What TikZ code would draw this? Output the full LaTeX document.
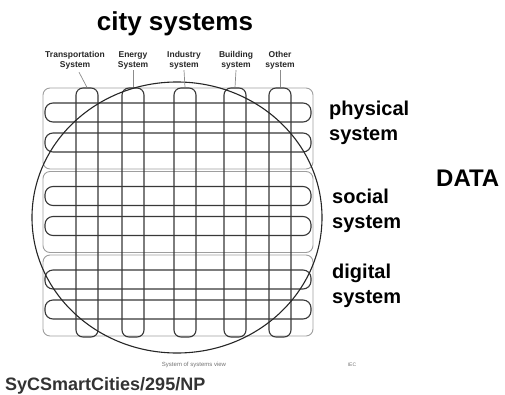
\documentclass[tikz,border=0pt]{standalone}
\usepackage{fontspec}
\setmainfont{Liberation Sans}
\begin{document}
\begin{tikzpicture}[x=1pt,y=-1pt,
  grp/.style={draw=black!38, line width=0.9pt, rounded corners=7pt,
    minimum width=270pt, minimum height=81pt, inner sep=0pt},
  rowstrip/.style={draw=black!78, line width=1.1pt, rounded corners=8pt,
    minimum width=266pt, minimum height=19pt, inner sep=0pt},
  colstrip/.style={draw=black!78, line width=1.1pt, rounded corners=7pt,
    minimum width=22pt, minimum height=249pt, inner sep=0pt},
  collabel/.style={font=\fontsize{8.5}{10}\selectfont\bfseries, text=black!85,
    align=center, inner sep=0pt},
  lead/.style={draw=black!45, line width=0.7pt},
  sidelabel/.style={font=\fontsize{20}{25}\selectfont\bfseries, align=left,
    inner sep=0pt, anchor=base west},
  bigtitle/.style={font=\fontsize{26}{30}\selectfont\bfseries, inner sep=0pt},
  tiny/.style={font=\fontsize{6}{7}\selectfont, text=black!55, inner sep=0pt}
]
\useasboundingbox (0,0) rectangle (505,394);

% group boxes
\node[grp] (g1) at (178,128.5) {};
\node[grp] (g2) at (178,212) {};
\node[grp] (g3) at (178,295.5) {};

% row strips
\node[rowstrip] (r1) at (178,112.5) {};
\node[rowstrip] (r2) at (178,142.5) {};
\node[rowstrip] (r3) at (178,196) {};
\node[rowstrip] (r4) at (178,226) {};
\node[rowstrip] (r5) at (178,279.5) {};
\node[rowstrip] (r6) at (178,309.5) {};

% column strips
\node[colstrip] (c1) at (87,212.5) {};
\node[colstrip] (c2) at (133,212.5) {};
\node[colstrip] (c3) at (185,212.5) {};
\node[colstrip] (c4) at (235,212.5) {};
\node[colstrip] (c5) at (280,212.5) {};

% data circle
\coordinate (dc) at (177,217.5);
\draw[black!85, line width=1.1pt] (dc) ellipse [x radius=145pt, y radius=135.5pt];

% column labels
\node[collabel] (l1) at (75,60) {Transportation\\System};
\node[collabel] (l2) at (133,60) {Energy\\System};
\node[collabel] (l3) at (184,60) {Industry\\system};
\node[collabel] (l4) at (236,60) {Building\\system};
\node[collabel] (l5) at (280,60) {Other\\system};

\draw[lead] ([xshift=4pt,yshift=-3pt]l1.south) -- (c1.north);
\draw[lead] ([yshift=-1pt]l2.south) -- (c2.north);
\draw[lead] ([yshift=-1pt]l3.south) -- (c3.north);
\draw[lead] ([yshift=-1pt]l4.south) -- (c4.north);
\draw[lead] ([yshift=-1pt]l5.south) -- (c5.north);

% titles
\node[bigtitle, anchor=base] (title) at (175,30) {city systems};
\node[sidelabel] (phys) at (329,140) {physical\\system};
\node[sidelabel] (soc) at (332,228) {social\\system};
\node[sidelabel] (dig) at (332,303) {digital\\system};
\node[font=\fontsize{24}{28}\selectfont\bfseries, inner sep=0pt, anchor=base west] (data) at (436,186) {DATA};

% bottom
\node[tiny, anchor=base] (sos) at (194,366) {System of systems view};
\node[tiny, font=\fontsize{5}{6}\selectfont, anchor=base] (iec) at (352,366) {IEC};
\node[font=\fontsize{18}{21}\selectfont\bfseries, text=black!80, inner sep=0pt, anchor=base west] (ref) at (5,390) {SyCSmartCities/295/NP};
\end{tikzpicture}
\end{document}
